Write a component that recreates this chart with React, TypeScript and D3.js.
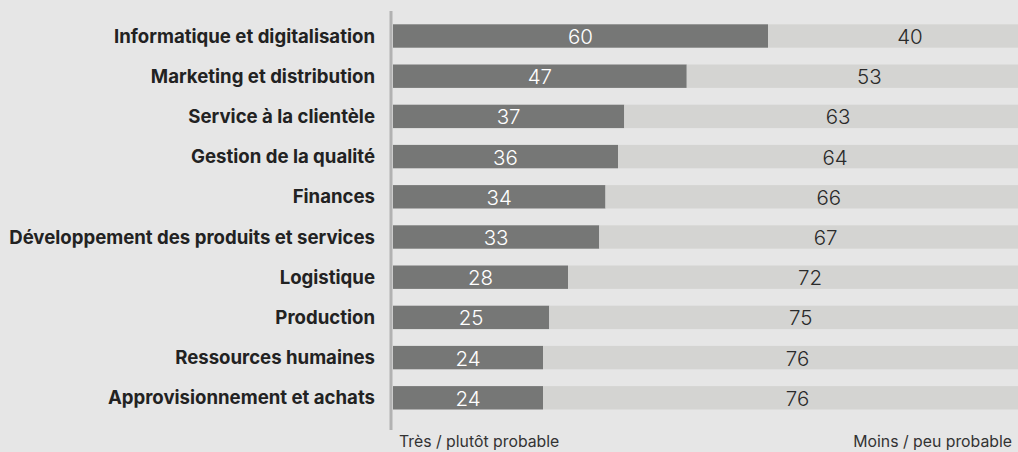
import React from "react";
import * as d3 from "d3";

const categories = [
  "Informatique et digitalisation",
  "Marketing et distribution",
  "Service à la clientèle",
  "Gestion de la qualité",
  "Finances",
  "Développement des produits et services",
  "Logistique",
  "Production",
  "Ressources humaines",
  "Approvisionnement et achats",
];
const probable = [60, 47, 37, 36, 34, 33, 28, 25, 24, 24];
const lessProbable = [40, 53, 63, 64, 66, 67, 72, 75, 76, 76];
const legendLeft = "Très / plutôt probable";
const legendRight = "Moins / peu probable";

const W = 1018;
const H = 452;
const FONT = "Inter, 'Noto Sans', sans-serif";

export default function App() {
  const x = d3.scaleLinear().domain([0, 100]).range([393, 1018]);
  const y = d3
    .scaleBand<string>()
    .domain(categories)
    .range([15.9, 417.9])
    .paddingInner(0.418)
    .paddingOuter(0.209);
  const bw = y.bandwidth();
  const labelEnd = x(100) + 34;

  return (
    <svg
      width={W}
      height={H}
      style={{ position: "absolute", left: 0, top: 0, display: "block" }}
    >
      <rect x={0} y={0} width={W} height={H} fill="#e6e6e6" />
      {categories.map((c, i) => {
        const y0 = y(c)!;
        const cy = y0 + bw / 2;
        const xd = x(probable[i]);
        const xe = x(probable[i] + lessProbable[i]);
        return (
          <g key={c}>
            <rect x={x(0)} y={y0} width={xd - x(0)} height={bw} fill="#767776" />
            <rect x={xd} y={y0} width={Math.max(0, xe - xd)} height={bw} fill="#d4d4d2" />
            <text
              x={375}
              y={cy + 6.6}
              textAnchor="end"
              fontFamily={FONT}
              fontWeight={700}
              fontSize={18.6}
              fill="#222"
            >
              {c}
            </text>
            <text
              x={(x(0) + xd) / 2}
              y={cy + 8}
              textAnchor="middle"
              fontFamily={FONT}
              fontWeight={300}
              fontSize={20.5}
              fill="#ffffff"
            >
              {probable[i]}
            </text>
            <text
              x={(xd + labelEnd) / 2}
              y={cy + 8}
              textAnchor="middle"
              fontFamily={FONT}
              fontWeight={300}
              fontSize={20.5}
              fill="#2a2a2a"
            >
              {lessProbable[i]}
            </text>
          </g>
        );
      })}
      <line x1={391} x2={391} y1={11} y2={430} stroke="#b2b2b2" strokeWidth={3} />
      <text x={399} y={447} fontFamily={FONT} fontSize={15.8} fill="#333">
        {legendLeft}
      </text>
      <text x={1012} y={447} textAnchor="end" fontFamily={FONT} fontSize={15.8} fill="#333">
        {legendRight}
      </text>
    </svg>
  );
}
